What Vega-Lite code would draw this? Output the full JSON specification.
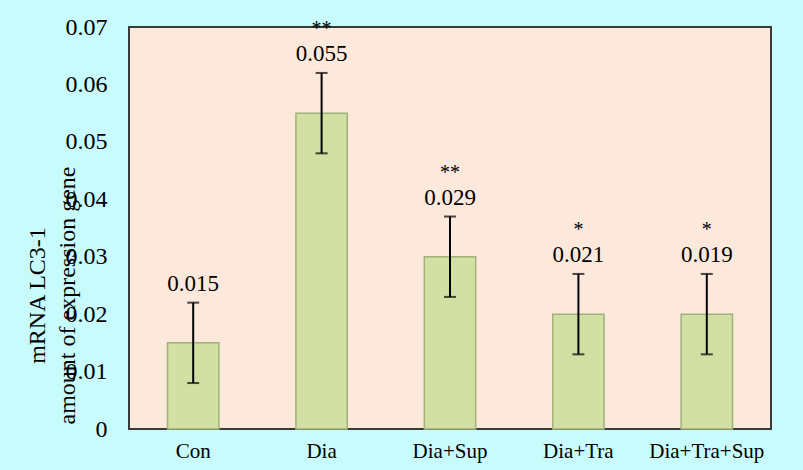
{
  "$schema": "https://vega.github.io/schema/vega-lite/v6.json",
  "width": 642,
  "height": 402,
  "autosize": {"type": "none"},
  "padding": {"left": 129, "top": 27, "right": 32, "bottom": 41},
  "background": "#c8fbfc",
  "config": {
    "view": {"fill": "#fde8dc", "stroke": "#3a3a3a", "strokeWidth": 2},
    "font": "Liberation Serif"
  },
  "data": {
    "values": [
      {"group": "Con", "value": 0.015, "lo": 0.008, "hi": 0.022, "label": "0.015", "sig": ""},
      {"group": "Dia", "value": 0.055, "lo": 0.048, "hi": 0.062, "label": "0.055", "sig": "**"},
      {"group": "Dia+Sup", "value": 0.03, "lo": 0.023, "hi": 0.037, "label": "0.029", "sig": "**"},
      {"group": "Dia+Tra", "value": 0.02, "lo": 0.013, "hi": 0.027, "label": "0.021", "sig": "*"},
      {"group": "Dia+Tra+Sup", "value": 0.02, "lo": 0.013, "hi": 0.027, "label": "0.019", "sig": "*"}
    ]
  },
  "encoding": {
    "x": {
      "field": "group",
      "type": "nominal",
      "sort": null,
      "scale": {"paddingInner": 0.6, "paddingOuter": 0.3},
      "axis": {
        "title": null,
        "labelAngle": 0,
        "labelFont": "Times New Roman, Liberation Serif, serif",
        "labelFontSize": 21,
        "labelColor": "#000000",
        "labelPadding": 11,
        "ticks": false,
        "domain": false
      }
    }
  },
  "layer": [
    {
      "mark": {"type": "bar", "fill": "#d2e1a3", "stroke": "#a2b07c", "strokeWidth": 1.5},
      "encoding": {
        "y": {
          "field": "value",
          "type": "quantitative",
          "scale": {"domain": [0, 0.07], "nice": false},
          "axis": {
            "values": [0, 0.01, 0.02, 0.03, 0.04, 0.05, 0.06, 0.07],
            "format": "~g",
            "grid": false,
            "ticks": false,
            "domain": false,
            "labelFont": "Liberation Serif, serif",
            "labelFontSize": 24,
            "labelColor": "#000000",
            "labelPadding": 22,
            "title": ["mRNA LC3-1", "amount of expression gene"],
            "titleFont": "Liberation Serif, serif",
            "titleFontSize": 24,
            "titleFontWeight": "normal",
            "titleColor": "#000000",
            "titleLineHeight": 30,
            "titleX": -104,
            "titleY": 268,
            "titleBaseline": "top",
            "titleAlign": "center",
            "titleAngle": -90
          }
        }
      }
    },
    {
      "mark": {"type": "rule", "color": "#000000", "strokeWidth": 2},
      "encoding": {
        "y": {"field": "lo", "type": "quantitative"},
        "y2": {"field": "hi"}
      }
    },
    {
      "mark": {"type": "tick", "color": "#000000", "size": 12, "thickness": 2},
      "encoding": {"y": {"field": "hi", "type": "quantitative"}}
    },
    {
      "mark": {"type": "tick", "color": "#000000", "size": 12, "thickness": 2},
      "encoding": {"y": {"field": "lo", "type": "quantitative"}}
    },
    {
      "mark": {"type": "text", "fontSize": 23, "dy": -19, "baseline": "middle", "color": "#000000", "font": "Liberation Serif, serif"},
      "encoding": {
        "y": {"field": "hi", "type": "quantitative"},
        "text": {"field": "label"}
      }
    },
    {
      "mark": {"type": "text", "fontSize": 20, "dy": -44, "baseline": "middle", "color": "#000000", "font": "Liberation Serif, serif"},
      "encoding": {
        "y": {"field": "hi", "type": "quantitative"},
        "text": {"field": "sig"}
      }
    }
  ]
}
